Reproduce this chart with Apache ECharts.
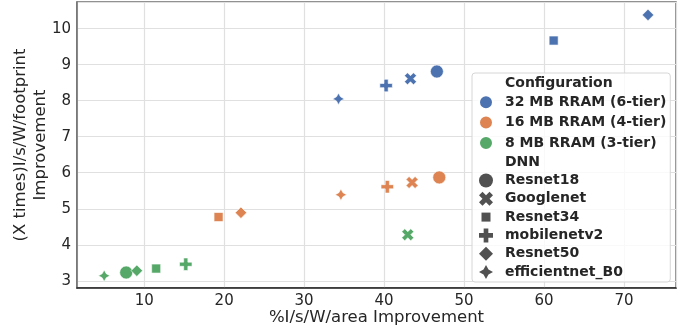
<!DOCTYPE html>
<html>
<head>
<meta charset="utf-8">
<script src="https://cdn.jsdelivr.net/npm/echarts@6/dist/echarts.min.js"></script>
<style>
  html, body { margin: 0; padding: 0; background: #fff; }
  #main { width: 688px; height: 330px; }
</style>
</head>
<body>
<div id="main"></div>
<script>
// legend groups
var configs = ['32 MB RRAM (6-tier)', '16 MB RRAM (4-tier)', '8 MB RRAM (3-tier)'];
var dnns = ['Resnet18', 'Googlenet', 'Resnet34', 'mobilenetv2', 'Resnet50', 'efficientnet_B0'];

// %I/s/W/area improvement (x) and (X times) I/s/W/footprint improvement (y), in dnns order
var area32 = [46.6, 43.3, 61.2, 40.25, 73.0, 34.3];
var foot32 = [8.81, 8.61, 9.67, 8.42, 10.38, 8.05];
var area16 = [46.9, 43.5, 19.3, 40.4, 22.1, 34.6];
var foot16 = [5.87, 5.73, 4.77, 5.61, 4.89, 5.39];
var area8 = [7.75, 42.96, 11.5, 15.2, 9.08, 5.0];
var foot8 = [3.23, 4.28, 3.34, 3.46, 3.28, 3.14];

var colors = ['#4C72B0', '#DD8452', '#55A868'];
var textColor = '#262626';
var font = 'DejaVu Sans';

// seaborn style markers: o, X, square, P, D, 4-point star
var symbols = [
    'circle',
    'path://M1,0 L2,1 L3,0 L4,1 L3,2 L4,3 L3,4 L2,3 L1,4 L0,3 L1,2 L0,1 Z',
    'rect',
    'path://M2,0 L4,0 L4,2 L6,2 L6,4 L4,4 L4,6 L2,6 L2,4 L0,4 L0,2 L2,2 Z',
    'diamond',
    'path://M1000,0 L1354,646 L2000,1000 L1354,1354 L1000,2000 L646,1354 L0,1000 L646,646 Z'
];
var sizes = [13, 12, 9, 12.5, 11.5, 11.5];
var legendIcons = symbols.slice();
legendIcons[2] = 'path://M0,0 M14,14 M2.5,2.5 L11.5,2.5 L11.5,11.5 L2.5,11.5 Z';

function buildData(xs, ys) {
    var out = [];
    for (var i = 0; i < xs.length; i++) {
        out.push({
            name: dnns[i],
            value: [xs[i], ys[i]],
            symbol: symbols[i],
            symbolSize: sizes[i]
        });
    }
    return out;
}

var allX = [area32, area16, area8];
var allY = [foot32, foot16, foot8];

var series = [];
configs.forEach(function (c, k) {
    series.push({
        name: c,
        type: 'scatter',
        data: buildData(allX[k], allY[k]),
        itemStyle: { color: colors[k], borderColor: '#fff', borderWidth: 0.6, opacity: 1 }
    });
});
// legend-only entries
series.push({ name: 'Configuration', type: 'scatter', data: [] });
series.push({ name: 'DNN', type: 'scatter', data: [] });
dnns.forEach(function (d, i) {
    series.push({ name: d, type: 'scatter', data: [], symbol: symbols[i], itemStyle: { color: textColor } });
});

var legendData = [{ name: 'Configuration', icon: 'none' }];
configs.forEach(function (c, k) {
    legendData.push({ name: c, icon: 'circle', itemStyle: { color: colors[k] } });
});
legendData.push({ name: 'DNN', icon: 'none' });
dnns.forEach(function (d, i) {
    legendData.push({ name: d, icon: legendIcons[i], itemStyle: { color: textColor } });
});

var option = {
    animation: false,
    backgroundColor: '#fff',
    textStyle: { fontFamily: font },
    grid: {
        left: 77, right: 12, top: 2, bottom: 42,
        outerBoundsMode: 'none',
        containLabel: false,
        show: true, borderColor: '#6e6e6e', borderWidth: 1.5
    },
    legend: {
        data: legendData,
        orient: 'vertical',
        left: 472,
        top: 73,
        itemWidth: 14,
        itemHeight: 14,
        itemGap: 4.3,
        padding: [3, 4, 3, 6],
        backgroundColor: 'rgba(255,255,255,0.8)',
        borderColor: '#d6d6d6',
        borderWidth: 1,
        borderRadius: 3,
        selectedMode: false,
        textStyle: { color: textColor, fontSize: 14, fontWeight: 'bold', fontFamily: font, padding: [0, 0, 0, 7] }
    },
    xAxis: {
        type: 'value',
        min: 1.6,
        max: 76.5,
        splitNumber: 7,
        name: '%I/s/W/area Improvement',
        nameLocation: 'middle',
        nameGap: 21,
        nameMoveOverlap: false,
        nameTextStyle: { color: textColor, fontSize: 16.5, fontFamily: font },
        axisLine: { show: true, lineStyle: { color: '#222', width: 1.5 } },
        axisTick: { show: false },
        axisLabel: { color: textColor, fontSize: 15, margin: 6, showMinLabel: false, showMaxLabel: false, fontFamily: font },
        splitLine: { show: true, lineStyle: { color: '#e0e0e0', width: 1.2 } }
    },
    yAxis: {
        type: 'value',
        min: 2.8,
        max: 10.74,
        splitNumber: 8,
        name: '(X times)I/s/W/footprint\nImprovement',
        nameLocation: 'middle',
        nameGap: 26,
        nameMoveOverlap: false,
        nameTextStyle: { color: textColor, fontSize: 16.5, lineHeight: 20, fontFamily: font, align: 'center' },
        axisLine: { show: true, lineStyle: { color: '#6e6e6e', width: 1.5 } },
        axisTick: { show: false },
        axisLabel: { color: textColor, fontSize: 15, margin: 6, showMinLabel: false, showMaxLabel: false, fontFamily: font },
        splitLine: { show: true, lineStyle: { color: '#e0e0e0', width: 1.2 } }
    },
    series: series
};

var myChart = echarts.init(document.getElementById('main'));
myChart.setOption(option);
</script>
</body>
</html>
